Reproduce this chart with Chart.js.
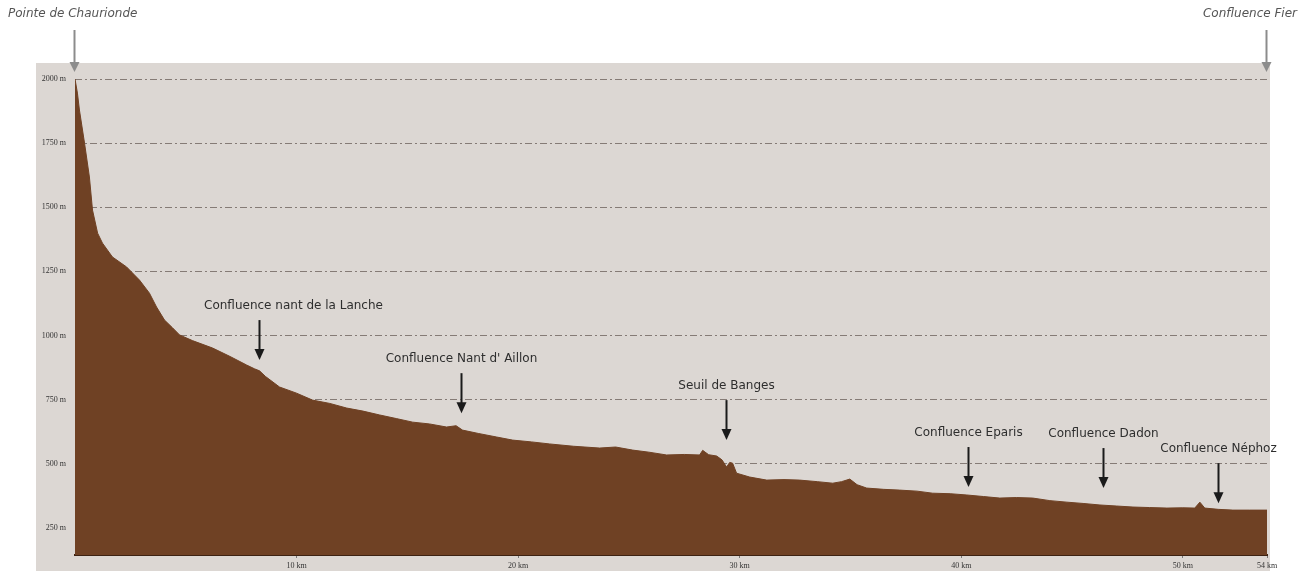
<!DOCTYPE html>
<html>
<head>
<meta charset="utf-8">
<script src="https://cdn.jsdelivr.net/npm/chart.js@4"></script>
<style>
  html, body { margin: 0; padding: 0; background: #fff; }
  #wrap { width: 1302px; height: 571px; }
</style>
</head>
<body>
<div id="wrap"><canvas id="profile"></canvas></div>
<script>
  // long profile of the river, distance from source (km) / altitude (m)
  const distanceKm = [
    0, 0.11, 0.2, 0.43, 0.65, 0.79, 1.02, 1.24, 1.69, 2.33,
    2.91, 3.36, 3.68, 4.04, 4.4, 4.72, 5.3, 6.21, 7.0, 7.74,
    8.1, 8.33, 8.6, 9.23, 10.0, 10.72, 11.5, 12.26, 13.0, 13.75,
    14.5, 15.24, 16.0, 16.77, 17.2, 17.49, 18.2, 19.03, 19.75, 20.6,
    21.42, 22.5, 23.68, 24.4, 25.17, 25.9, 26.7, 27.5, 28.19, 28.33,
    28.6, 28.96, 29.2, 29.41, 29.55, 29.68, 29.86, 30.45, 31.22, 32.0,
    32.71, 33.5, 34.2, 34.6, 34.97, 35.3, 35.73, 36.5, 37.22, 38.0,
    38.71, 39.5, 40.25, 41.0, 41.74, 42.5, 43.23, 44.0, 44.77, 45.5,
    46.26, 47.0, 47.75, 48.5, 49.28, 50.0, 50.54, 50.77, 50.99, 51.6,
    52.26, 53.0, 53.8
  ];
  const elevationM = [
    2000, 1945, 1879, 1750, 1618, 1489, 1399, 1360, 1306, 1267,
    1216, 1165, 1111, 1060, 1030, 1002, 980, 951, 918, 885,
    870, 862, 840, 799, 775, 748, 735, 717, 705, 690,
    676, 662, 655, 643, 648, 631, 618, 604, 592, 585,
    577, 568, 561, 565, 553, 545, 534, 536, 534, 552,
    535, 530, 515, 487, 505, 502, 463, 448, 436, 438,
    436, 430, 424, 430, 440, 418, 405, 400, 397, 393,
    385, 383, 378, 372, 366, 368, 366, 356, 350, 345,
    339, 335, 331, 329, 327, 328, 327, 350, 327, 322,
    319, 319, 319
  ];

  const yTicks = [250, 500, 750, 1000, 1250, 1500, 1750, 2000];
  const xTicks = [10, 20, 30, 40, 50, 53.8];

  // annotated points along the river
  const noteLabels = [
    'Confluence nant de la Lanche',
    "Confluence Nant d' Aillon",
    'Seuil de Banges',
    'Confluence Eparis',
    'Confluence Dadon',
    'Confluence Néphoz'
  ];
  const noteKm = [8.3, 17.4, 29.4, 40.3, 46.4, 51.6];
  const noteTipM = [904, 697, 592, 409, 405, 346];

  const endLabels = ['Pointe de Chaurionde', 'Confluence Fier'];
  const endKm = [0, 53.8];

  const points = distanceKm.map((d, i) => ({ x: d, y: elevationM[i] }));

  const panelBg = {
    id: 'panelBg',
    beforeDraw(chart) {
      const { ctx, chartArea } = chart;
      ctx.save();
      ctx.fillStyle = '#dcd7d3';
      ctx.fillRect(chartArea.left - 39, chartArea.top - 16, chartArea.right - chartArea.left + 42, chart.height);
      ctx.restore();
    }
  };

  function arrow(ctx, x, yTop, yTip, color, head) {
    ctx.strokeStyle = color;
    ctx.fillStyle = color;
    ctx.lineWidth = 2;
    ctx.beginPath();
    ctx.moveTo(x, yTop);
    ctx.lineTo(x, yTip - head);
    ctx.stroke();
    ctx.beginPath();
    ctx.moveTo(x - 5, yTip - head - 1);
    ctx.lineTo(x + 5, yTip - head - 1);
    ctx.lineTo(x, yTip);
    ctx.closePath();
    ctx.fill();
  }

  const notes = {
    id: 'notes',
    afterDraw(chart) {
      const { ctx, scales: { x, y }, chartArea } = chart;
      ctx.save();
      ctx.font = '12px "DejaVu Sans"';
      ctx.textBaseline = 'middle';
      ctx.textAlign = 'center';
      noteKm.forEach((km, i) => {
        const px = Math.round(x.getPixelForValue(km)) + 0.5;
        const tip = y.getPixelForValue(noteTipM[i]);
        arrow(ctx, px, tip - 40, tip, '#1a1a1a', 10);
        ctx.fillStyle = '#2e2e2e';
        const shift = i === 0 ? 34 : 0;
        ctx.fillText(noteLabels[i], px + shift, tip - 54);
      });

      // source and mouth markers
      ctx.font = 'italic 12px "DejaVu Sans"';
      endKm.forEach((km, i) => {
        const px = Math.round(x.getPixelForValue(km)) - 0.5;
        arrow(ctx, px, 30, chartArea.top - 7, '#8c8c8c', 9);
        ctx.fillStyle = '#555';
        ctx.textAlign = i === 0 ? 'left' : 'right';
        ctx.fillText(endLabels[i], i === 0 ? 8 : chart.width - 5, 14);
      });
      ctx.restore();
    }
  };

  const config = {
    type: 'line',
    data: {
      datasets: [{
        label: 'Altitude',
        data: points,
        fill: 'start',
        backgroundColor: '#6f4124',
        borderColor: '#6f4124',
        borderWidth: 1,
        pointRadius: 0,
        tension: 0,
      }]
    },
    options: {
      responsive: true,
      maintainAspectRatio: false,
      animation: false,
      layout: {
        padding: { left: 0, top: 79, right: 35, bottom: 0 }
      },
      scales: {
        x: {
          type: 'linear',
          min: 0,
          max: 53.8,
          afterFit: (s) => { s.height = 16; },
          afterBuildTicks: (s) => { s.ticks = xTicks.map(v => ({ value: v })); },
          grid: {
            display: true,
            drawOnChartArea: false,
            tickLength: 3,
            color: '#777',
          },
          border: { color: '#3d2212', width: 2 },
          ticks: {
            autoSkip: false,
            maxRotation: 0,
            padding: 3,
            color: '#333',
            font: { family: 'Liberation Serif', size: 8 },
            callback: (v) => v === 53.8 ? '54 km' : v + ' km',
          }
        },
        y: {
          min: 144,
          max: 2000,
          z: 1,
          afterFit: (s) => { s.width = 75; },
          afterBuildTicks: (s) => { s.ticks = yTicks.map(v => ({ value: v })); },
          grid: {
            drawTicks: false,
            color: 'rgba(45, 32, 26, 0.5)',
            lineWidth: 1,
          },
          border: { display: false, dash: [7, 3, 2, 3] },
          ticks: {
            padding: 9,
            color: '#333',
            font: { family: 'Liberation Serif', size: 8 },
            callback: (v) => v + ' m',
          }
        }
      },
      plugins: {
        legend: { display: false },
        tooltip: { enabled: false },
      }
    },
    plugins: [panelBg, notes]
  };

  const profileChart = new Chart(document.getElementById('profile'), config);
</script>
</body>
</html>
